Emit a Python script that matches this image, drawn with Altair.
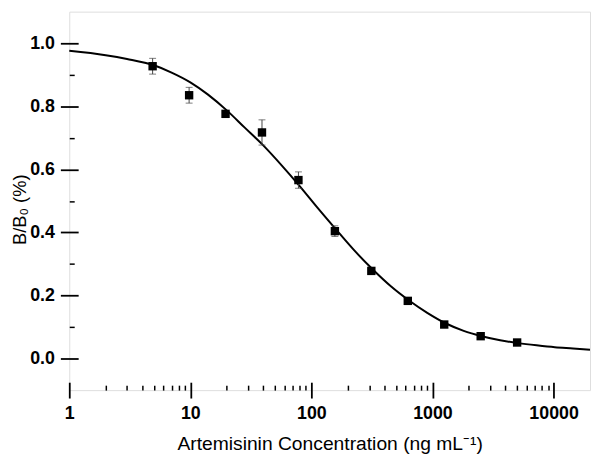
import altair as alt
import pandas as pd

# Measured points (concentration in ng/mL, B/B0)
conc = [4.88, 9.77, 19.53, 39.06, 78.13, 156.25, 312.5, 625, 1250, 2500, 5000]
ratio = [0.927, 0.835, 0.776, 0.717, 0.566, 0.404, 0.278, 0.183, 0.108, 0.071, 0.051]
err = [0.025, 0.025, 0.008, 0.040, 0.026, 0.017, 0.006, 0.008, 0.006, 0.005, 0.004]

# Fitted curve
curve_x = [1, 2, 3, 5, 7, 10, 14, 20, 28, 40, 57, 80, 113, 160, 226, 320, 453,
           640, 905, 1280, 1810, 2560, 3620, 5120, 7240, 10240, 14480, 20000]
curve_y = [0.976, 0.962, 0.950, 0.930, 0.907, 0.876, 0.837, 0.787, 0.733, 0.676,
           0.612, 0.547, 0.477, 0.409, 0.343, 0.283, 0.229, 0.184, 0.145, 0.112,
           0.088, 0.071, 0.058, 0.049, 0.042, 0.036, 0.032, 0.028]

x_major = [1, 10, 100, 1000, 10000]
x_minor = [m * d for d in [1, 10, 100, 1000] for m in range(2, 10)]
y_major = [0.0, 0.2, 0.4, 0.6, 0.8, 1.0]
y_minor = [0.1, 0.3, 0.5, 0.7, 0.9]

pts = pd.DataFrame({
    "conc": conc,
    "ratio": ratio,
    "lo": [r - e for r, e in zip(ratio, err)],
    "hi": [r + e for r, e in zip(ratio, err)],
})
crv = pd.DataFrame({"conc": curve_x, "ratio": curve_y})

FONT = "Liberation Sans"
xs = alt.Scale(type="log", domain=[1, 20000], nice=False)
ys = alt.Scale(domain=[-0.1, 1.1], nice=False, zero=False)

x_major_axis = alt.Axis(
    orient="bottom", values=x_major, format="d", offset=-8, tickSize=16,
    tickWidth=1.8, tickColor="black", domain=False, grid=False,
    labelFont=FONT, labelFontSize=18, labelFontWeight="bold", labelColor="black",
    labelPadding=7, title="Artemisinin Concentration (ng mL\u207b\u00b9)",
    titleFont=FONT, titleFontSize=19.5, titleFontWeight="normal", titleColor="black",
    titlePadding=12, labelFlush=False,
)
y_major_axis = alt.Axis(
    orient="left", values=y_major, format=".1f", offset=-9, tickSize=18,
    tickWidth=1.8, tickColor="black", domain=False, grid=False,
    labelFont=FONT, labelFontSize=18, labelFontWeight="bold", labelColor="black",
    labelPadding=6, title="B/B\u2080 (%)", titleFont=FONT, titleFontSize=18.5,
    titleFontWeight="normal", titleColor="black", titlePadding=0, titleY=200,
)
x_minor_axis = alt.Axis(
    orient="bottom", values=x_minor, offset=-5, tickSize=5, tickWidth=1.5,
    tickColor="black", labels=False, domain=False, grid=False, title=None,
)
y_minor_axis = alt.Axis(
    orient="left", values=y_minor, offset=-5, tickSize=5, tickWidth=1.5,
    tickColor="black", labels=False, domain=False, grid=False, title=None,
)

curve = alt.Chart(crv).mark_line(color="black", strokeWidth=2, interpolate="monotone").encode(
    x=alt.X("conc:Q", scale=xs, axis=x_major_axis),
    y=alt.Y("ratio:Q", scale=ys, axis=y_major_axis),
)

minor = alt.Chart(pts).mark_point(opacity=0).encode(
    x=alt.X("conc:Q", scale=xs, axis=x_minor_axis),
    y=alt.Y("ratio:Q", scale=ys, axis=y_minor_axis),
)

bars = alt.Chart(pts).mark_rule(color="#444444", strokeWidth=1).encode(
    x=alt.X("conc:Q", scale=xs, axis=None),
    y=alt.Y("lo:Q", scale=ys, axis=None),
    y2="hi:Q",
)

caps = alt.Chart(pts).transform_fold(["lo", "hi"], as_=["k", "v"]).mark_tick(
    color="#444444", orient="horizontal", size=7, thickness=1
).encode(
    x=alt.X("conc:Q", scale=xs, axis=None),
    y=alt.Y("v:Q", scale=ys, axis=None),
)

dots = alt.Chart(pts).mark_point(shape="square", filled=True, color="black", size=72, opacity=1).encode(
    x=alt.X("conc:Q", scale=xs, axis=None),
    y=alt.Y("ratio:Q", scale=ys, axis=None),
)

chart = alt.layer(curve, minor, bars, caps, dots).resolve_axis(
    x="independent", y="independent"
).properties(
    width=527, height=383,
    autosize=alt.AutoSizeParams(type="none"),
    padding={"left": 62, "top": 1, "right": 2, "bottom": 67},
).configure_view(stroke="black", strokeWidth=2).configure(background="white")

chart.save("out.html", embed_options={"renderer": "svg", "actions": False})
